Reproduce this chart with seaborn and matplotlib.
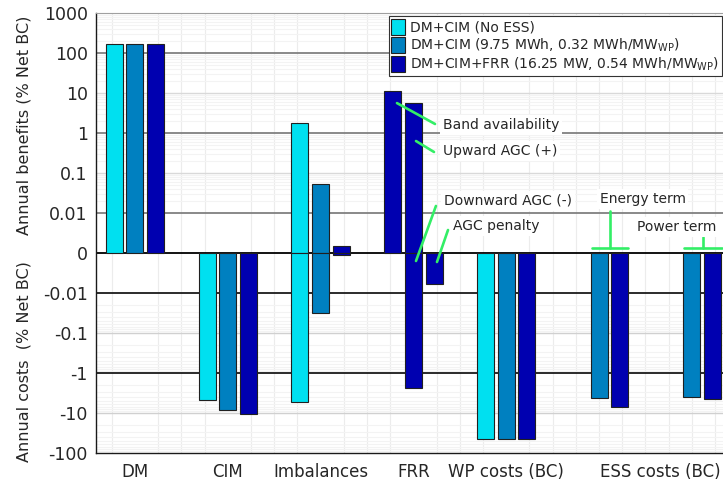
import numpy as np
import pandas as pd
import matplotlib
matplotlib.use("Agg")
import matplotlib.pyplot as plt
import seaborn as sns
from matplotlib.patches import Patch
from matplotlib.ticker import SymmetricalLogLocator, MultipleLocator

nan = np.nan

# x slots (ESS costs are split into energy / power terms)
slots = ["DM", "CIM", "Imbalances", "FRR", "WP costs (BC)", "ESS energy term", "ESS power term"]
tick_labels = ["DM", "CIM", "Imbalances", "FRR", "WP costs (BC)", "ESS costs (BC)"]

series_names = ["DM+CIM (No ESS)",
                "DM+CIM (9.75 MWh, 0.32 MWh/MW$_{\\mathrm{WP}}$)",
                "DM+CIM+FRR (16.25 MW, 0.54 MWh/MW$_{\\mathrm{WP}}$)"]
colors = ["#00e0f0", "#0080c0", "#0000b0"]

# annual benefits (+) and costs (-), % of net BC
no_ess_benefits = [168, nan, 1.74, nan, nan, nan, nan]
no_ess_costs = [nan, -4.8, -5.4, nan, -44, nan, nan]
ess_benefits = [168, nan, 0.053, nan, nan, nan, nan]
ess_costs = [nan, -8.4, -0.032, nan, -44, -4.3, -4.0]
frr_benefits = [168, nan, 0.0018, nan, nan, nan, nan]
frr_costs = [nan, -10.6, -0.0004, nan, -44, -7.1, -4.5]

# FRR slot of the DM+CIM+FRR case is split in its components
frr_parts = ["Band availability", "Upward AGC (+)", "Downward AGC (-)", "AGC penalty"]
frr_part_values = [11.2, 5.5, -2.4, -0.0078]
frr_part_bar = ["L", "M", "M", "R"]

y_ticks = [1000, 100, 10, 1, 0.1, 0.01, 0, -0.01, -0.1, -1, -10, -100]
y_tick_labels = ["1000", "100", "10", "1", "0.1", "0.01", "0",
                 "-0.01", "-0.1", "-1", "-10", "-100"]

rows = []
all_sets = [(no_ess_benefits, no_ess_costs), (ess_benefits, ess_costs), (frr_benefits, frr_costs)]
for s, (bar, (ben, cost)) in enumerate(zip(["L", "M", "R"], all_sets)):
    for slot, b, c in zip(slots, ben, cost):
        rows.append((slot, bar, b, s))
        rows.append((slot, bar, c, s))
for part, v, bar in zip(frr_parts, frr_part_values, frr_part_bar):
    rows.append(("FRR", bar, v, 2))
df = pd.DataFrame(rows, columns=["slot", "bar", "value", "series"]).dropna()

sns.set_style("white")
plt.rcParams['font.family'] = ['DejaVu Sans']
plt.rcParams['text.color'] = '#262626'
plt.rcParams['axes.labelcolor'] = '#262626'
plt.rcParams['xtick.color'] = '#262626'
plt.rcParams['ytick.color'] = '#262626'

fig = plt.figure(figsize=(7.23, 4.82), dpi=100)
ax = fig.add_axes([96 / 723, 29 / 482, 0.878, 440 / 482])

for s in range(3):
    for positive in (True, False):
        sub = df[(df.series == s) & ((df.value > 0) if positive else (df.value < 0))]
        sns.barplot(data=sub, x="slot", y="value", hue="bar", order=slots,
                    hue_order=["L", "M", "R"], palette={k: colors[s] for k in "LMR"},
                    dodge=True, saturation=1, width=0.67, gap=0.18, errorbar=None,
                    edgecolor="#202020", linewidth=0.8, legend=False, ax=ax, zorder=3)

ax.set_yscale("symlog", linthresh=0.01, linscale=0.9)
ax.set_ylim(-100, 1000)
ax.set_xlim(-0.42, 6.42)
ax.set_xlabel("")
ax.set_ylabel("")

ax.set_yticks(y_ticks, y_tick_labels, fontsize=12.5)
ax.yaxis.set_minor_locator(SymmetricalLogLocator(linthresh=0.01, base=10, subs=np.arange(2, 10)))
ax.tick_params(axis="y", which="major", direction="in", length=5, width=0.8, pad=6)
ax.tick_params(axis="y", which="minor", direction="in", length=3, width=0.6)
ax.set_xticks([0, 1, 2, 3, 4, 5.66], tick_labels, fontsize=12)
ax.xaxis.set_minor_locator(MultipleLocator(0.25))
ax.tick_params(axis="x", which="both", length=0, pad=7)

ax.grid(which="minor", axis="y", color="#f3f3f3", lw=0.8, zorder=0)
ax.grid(which="minor", axis="x", color="#ececec", lw=0.8, zorder=0)
ax.set_axisbelow(True)

grid_colors = {100: "#808080", 10: "#d9d9d9", 1: "#808080", 0.1: "#d9d9d9",
               0.01: "#808080", 0: "#000000", -0.01: "#1a1a1a", -0.1: "#d0d0d0",
               -1: "#1a1a1a", -10: "#d0d0d0"}
for lvl, col in grid_colors.items():
    ax.axhline(lvl, color=col, lw=1.3 if col != "#d9d9d9" and col != "#d0d0d0" else 1.0, zorder=1)

for side in ["left", "bottom"]:
    ax.spines[side].set_color("#1a1a1a")
    ax.spines[side].set_linewidth(1.0)
ax.spines["top"].set_color("#a0a0a0")
ax.spines["right"].set_visible(False)

fig.text(24 / 723, 1 - 125 / 482, "Annual benefits (% Net BC)", rotation=90,
         ha="center", va="center", fontsize=11.5)
fig.text(24 / 723, 1 - 362 / 482, "Annual costs  (% Net BC)", rotation=90,
         ha="center", va="center", fontsize=11.5)

# annotations
green = "#33ee66"
box = dict(facecolor="white", edgecolor="none", pad=2)
ax.plot([2.823, 3.233], [5.6, 1.68], color=green, lw=1.9, zorder=4)
ax.text(3.32, 1.6, "Band availability", ha="left", va="center", fontsize=10, bbox=box, zorder=5)
ax.plot([3.028, 3.222], [0.63, 0.335], color=green, lw=1.9, zorder=4)
ax.text(3.32, 0.355, "Upward AGC (+)", ha="left", va="center", fontsize=10, bbox=box, zorder=5)
ax.plot([3.243, 3.028], [0.015, -0.002], color=green, lw=1.9, zorder=4)
ax.text(3.33, 0.02, "Downward AGC (-)", ha="left", va="center", fontsize=10, bbox=box, zorder=5)
ax.plot([3.373, 3.254], [0.00575, -0.00225], color=green, lw=1.9, zorder=4)
ax.text(3.43, 0.00675, "AGC penalty", ha="left", va="center", fontsize=10, bbox=box, zorder=5)

ax.plot([4.92, 5.31], [0.00125, 0.00125], color=green, lw=1.9, zorder=4)
ax.plot([5.118, 5.118], [0.00125, 0.0112], color=green, lw=1.9, zorder=4)
ax.text(5.47, 0.0224, "Energy term", ha="center", va="center", fontsize=10, bbox=box, zorder=5)
ax.plot([5.92, 6.33], [0.00125, 0.00125], color=green, lw=1.9, zorder=4)
ax.plot([6.12, 6.12], [0.00125, 0.004], color=green, lw=1.9, zorder=4)
ax.text(5.84, 0.0065, "Power term", ha="center", va="center", fontsize=10, bbox=box, zorder=5)

handles = [Patch(facecolor=c, edgecolor="#202020", lw=0.8, label=n)
           for c, n in zip(colors, series_names)]
leg = ax.legend(handles=handles, loc="upper right", bbox_to_anchor=(722 / 723, 1 - 16 / 482),
                bbox_transform=fig.transFigure, fontsize=10, frameon=True, fancybox=False,
                framealpha=1, edgecolor="#333333", handlelength=1.0, handleheight=1.45,
                labelspacing=0.1, handletextpad=0.35, borderpad=0.2, borderaxespad=0)
leg.get_frame().set_linewidth(0.8)
leg.set_zorder(10)

fig.savefig("out.png", dpi=100)
